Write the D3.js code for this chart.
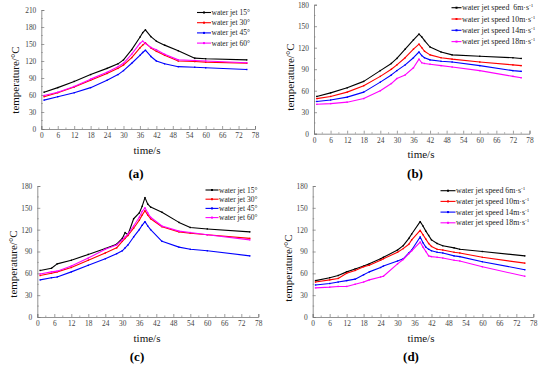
<!DOCTYPE html>
<html>
<head>
<meta charset="utf-8">
<script src="https://cdn.jsdelivr.net/npm/d3@7"></script>
<style>
  body { margin: 0; background: #fff; }
  svg text { font-family: "Liberation Serif", "Times New Roman", serif !important; }
</style>
</head>
<body>
<div id="chart"></div>
<script>
// time axis ticks
var xTicks = d3.range(0, 79, 6);

// (a) jet angle
var tA = [1, 6, 12, 18, 24, 28, 30, 33, 36, 37, 38, 40, 42, 45, 50, 56, 60, 75];
var a15 = [65, 73, 84, 96, 107, 115, 122, 140, 162, 170, 175, 163, 155, 148, 138, 125, 124, 122];
var a30 = [57, 64, 74, 86, 98, 107, 113, 126, 143, 148, 152, 143, 137, 130, 120, 119, 118, 116];
var a45 = [51, 57, 64, 73, 86, 96, 103, 116, 130, 135, 139, 128, 120, 115, 110, 109, 108, 105];
var a60 = [59, 65, 75, 88, 100, 110, 116, 132, 151, 155, 151, 144, 140, 132, 122, 121, 120, 117];

// (b) jet speed
var tB = [1, 6, 12, 18, 24, 28, 30, 33, 36, 38, 39, 40, 42, 46, 50, 60, 72, 75];
var b6 = [52, 57, 64, 73, 88, 98, 105, 118, 131, 139, 135, 130, 121, 114, 110, 108, 106, 105];
var b10 = [49, 52, 58, 67, 80, 90, 96, 106, 118, 125, 120, 115, 110, 106, 104, 100, 96, 95];
var b14 = [45, 47, 51, 58, 72, 82, 88, 96, 106, 114, 109, 106, 103, 101, 100, 95, 88, 87];
var b18 = [41, 42, 44, 49, 60, 70, 77, 82, 92, 104, 99, 98, 97, 95, 93, 88, 80, 78];

// (c) jet angle
var tC = [1, 5, 7, 12, 18, 24, 28, 30, 31, 32, 34, 36, 37, 38, 39, 40, 44, 50, 54, 60, 75];
var c15 = [64, 67, 73, 78, 86, 94, 100, 108, 116, 113, 135, 143, 152, 164, 155, 151, 144, 130, 123, 121, 117];
var c30 = [57, 60, 62, 68, 78, 88, 95, 104, 108, 112, 122, 133, 140, 146, 140, 135, 124, 117, 115, 113, 108];
var c45 = [51, 54, 55, 62, 71, 80, 87, 91, 95, 99, 110, 120, 126, 131, 125, 120, 104, 96, 93, 91, 84];
var c60 = [59, 62, 63, 70, 81, 93, 99, 106, 110, 114, 125, 137, 145, 150, 143, 137, 125, 118, 116, 113, 106];

// (d) jet speed
var tD = [1, 6, 9, 12, 15, 18, 20, 24, 25, 30, 32, 34, 35, 38, 39, 40, 41, 42, 44, 46, 50, 52, 60, 75];
var d6 = [50, 54, 57, 62, 66, 70, 73, 80, 82, 92, 98, 108, 114, 131, 125, 118, 112, 106, 101, 98, 95, 93, 90, 84];
var d10 = [48, 51, 53, 60, 64, 69, 71, 78, 80, 89, 94, 100, 106, 119, 113, 107, 101, 97, 93, 92, 89, 88, 82, 74];
var d14 = [44, 46, 48, 50, 52, 58, 62, 68, 70, 77, 80, 88, 92, 110, 102, 96, 93, 91, 89, 88, 84, 83, 76, 65];
var d18 = [40, 41, 42, 42, 45, 48, 51, 55, 56, 73, 79, 87, 91, 103, 96, 90, 84, 83, 82, 81, 78, 77, 69, 56];

var angleNames = ["water jet 15°", "water jet 30°", "water jet 45°", "water jet 60°"];
var speedNames = ["water jet speed  6m·s", "water jet speed 10m·s", "water jet speed 14m·s", "water jet speed 18m·s"];
var speedNamesD = ["water jet speed 6m·s", "water jet speed 10m·s", "water jet speed 14m·s", "water jet speed 18m·s"];
var colors = ["#000000", "#ff0000", "#0000ff", "#ff00ff"];

var svg = d3.select("#chart").append("svg")
  .attr("width", 550)
  .attr("height", 373);

var panels = [
  { t: tA, series: [a15, a30, a45, a60], names: angleNames, sup: false, yMax: 210,
    x0: 41.3, x1: 255, y0: 129, y1: 10, label: "(a)", lx: 136, ly: 178, tx: 147, ty: 154, yx: 15, yy: 80,
    legX: 197, legY: 12.5, legDy: 10.2, legW: 14 },
  { t: tB, series: [b6, b10, b14, b18], names: speedNames, sup: true, yMax: 180,
    x0: 314, x1: 529.5, y0: 133.7, y1: 4.7, label: "(b)", lx: 415, ly: 178, tx: 421, ty: 158, yx: 290, yy: 77,
    legX: 451.5, legY: 7.7, legDy: 11.3, legW: 10 },
  { t: tC, series: [c15, c30, c45, c60], names: angleNames, sup: false, yMax: 180,
    x0: 37.3, x1: 258.3, y0: 317, y1: 186, label: "(c)", lx: 137, ly: 361, tx: 147, ty: 342, yx: 13, yy: 264,
    legX: 205.5, legY: 190, legDy: 9.2, legW: 13 },
  { t: tD, series: [d6, d10, d14, d18], names: speedNamesD, sup: true, yMax: 180,
    x0: 312.7, x1: 533.3, y0: 317, y1: 186, label: "(d)", lx: 411, ly: 361, tx: 421, ty: 342, yx: 288, yy: 268,
    legX: 440.5, legY: 190.7, legDy: 10.7, legW: 15 }
];

panels.forEach(drawPanel);

function drawPanel(p) {
  var x = d3.scaleLinear().domain([0, 78]).range([p.x0, p.x1]);
  var y = d3.scaleLinear().domain([0, p.yMax]).range([p.y0, p.y1]);
  var g = svg.append("g");

  // minor ticks
  g.selectAll(".mx").data(d3.range(3, 78, 6)).enter().append("line")
    .attr("x1", function (d) { return x(d); }).attr("x2", function (d) { return x(d); })
    .attr("y1", p.y0).attr("y2", p.y0 - 1.5)
    .attr("stroke", "#777").attr("stroke-width", 0.6);
  g.selectAll(".my").data(d3.range(15, p.yMax, 30)).enter().append("line")
    .attr("y1", function (d) { return y(d); }).attr("y2", function (d) { return y(d); })
    .attr("x1", p.x0).attr("x2", p.x0 + 1.5)
    .attr("stroke", "#777").attr("stroke-width", 0.6);

  var xAxis = g.append("g").attr("transform", "translate(0," + p.y0 + ")")
    .call(d3.axisBottom(x).tickValues(xTicks).tickSize(-3).tickPadding(5));
  var yAxis = g.append("g").attr("transform", "translate(" + p.x0 + ",0)")
    .call(d3.axisLeft(y).tickValues(d3.range(0, p.yMax + 1, 30)).tickSize(-3).tickPadding(5));
  [xAxis, yAxis].forEach(function (ax) {
    ax.attr("font-family", null);
    ax.select(".domain").attr("stroke", "#777").attr("stroke-width", 0.8);
    ax.selectAll(".tick line").attr("stroke", "#777").attr("stroke-width", 0.7);
    ax.selectAll("text").attr("fill", "#444").style("font-size", "7.4px");
  });
  xAxis.selectAll("text").attr("dy", "0.6em");

  var line = d3.line()
    .x(function (d, i) { return x(p.t[i]); })
    .y(function (d) { return y(d); });

  p.series.forEach(function (vals, k) {
    g.append("path").datum(vals)
      .attr("d", line)
      .attr("fill", "none")
      .attr("stroke", colors[k])
      .attr("stroke-width", 1.1)
      .attr("stroke-linejoin", "round");
    g.selectAll(".m" + k).data(vals).enter().append("rect")
      .attr("x", function (d, i) { return x(p.t[i]) - 0.7; })
      .attr("y", function (d) { return y(d) - 0.7; })
      .attr("width", 1.4).attr("height", 1.4)
      .attr("fill", colors[k]);
  });

  // legend
  p.names.forEach(function (name, k) {
    var ly = p.legY + k * p.legDy;
    g.append("line")
      .attr("x1", p.legX).attr("x2", p.legX + p.legW)
      .attr("y1", ly).attr("y2", ly)
      .attr("stroke", colors[k]).attr("stroke-width", 1.1);
    g.append("rect")
      .attr("x", p.legX + p.legW / 2 - 1).attr("y", ly - 1)
      .attr("width", 2).attr("height", 2).attr("fill", colors[k]);
    var t = g.append("text")
      .attr("x", p.legX + p.legW + 0.5).attr("y", ly + 2.5)
      .attr("fill", "#222")
      .style("white-space", "pre")
      .style("font-size", p.sup ? "7.9px" : "7.5px")
      .text(name);
    if (p.sup) {
      t.append("tspan").attr("dy", -3).style("font-size", "5px").text("-1");
    }
  });

  g.append("text")
    .attr("x", p.tx).attr("y", p.ty)
    .attr("text-anchor", "middle")
    .attr("fill", "#111")
    .style("font-size", "11px")
    .text("time/s");

  g.append("text")
    .attr("transform", "translate(" + p.yx + "," + p.yy + ") rotate(-90)")
    .attr("text-anchor", "middle")
    .attr("dy", "0.35em")
    .attr("fill", "#111")
    .style("font-size", "11px")
    .text("temperature/°C");

  g.append("text")
    .attr("x", p.lx).attr("y", p.ly)
    .attr("text-anchor", "middle")
    .attr("fill", "#000")
    .style("font-size", "13px")
    .style("font-weight", "bold")
    .text(p.label);
}
</script>
</body>
</html>
